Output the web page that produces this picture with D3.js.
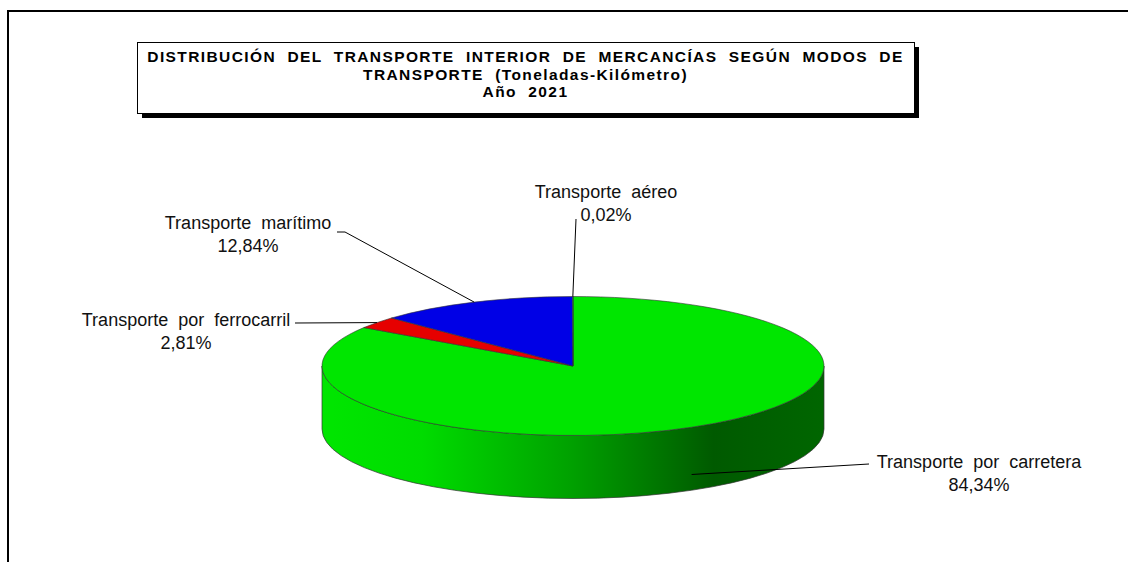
<!DOCTYPE html>
<html>
<head>
<meta charset="utf-8">
<script src="https://cdn.jsdelivr.net/npm/d3@7"></script>
<style>
  html, body { margin: 0; padding: 0; background: #fff; overflow: hidden; }
  svg text { white-space: pre; }
</style>
</head>
<body>
<svg id="chart" width="1128" height="562"></svg>
<script>
// data, in drawing order (clockwise from 12 o'clock)
const categories = ["Transporte  por  carretera", "Transporte  por  ferrocarril", "Transporte  marítimo", "Transporte  aéreo"];
const shares = [84.34, 2.81, 12.84, 0.02];
const pctLabels = ["84,34%", "2,81%", "12,84%", "0,02%"];
const titleLines = [
  "DISTRIBUCIÓN  DEL  TRANSPORTE  INTERIOR  DE  MERCANCÍAS  SEGÚN  MODOS  DE",
  "TRANSPORTE  (Toneladas-Kilómetro)",
  "Año  2021"
];

const sliceColors = ["#00e600", "#e60000", "#0000e6", "#00e6e6"];

// layout
const cx = 573, cy = 366, rx = 251, ry = 69.5, depth = 63;
const labelLayout = [
  { x: 979, y: 462, lx: 869, ly: 464, drop: 0.75 },
  { x: 186, y: 320, lx: 295, ly: 323, drop: 0 },
  { x: 248, y: 223, lx: 337, ly: 232, elbow: 345, drop: 0 },
  { x: 606, y: 192, lx: 576, ly: 219, drop: 0 }
];

const svg = d3.select("#chart");

// outer frame: only left and top edges fall inside the window
svg.append("path")
  .attr("d", "M8,600 V11 H1200")
  .attr("fill", "none")
  .attr("stroke", "#000").attr("stroke-width", 2);

// title box with drop shadow
const tb = { x: 137, y: 42, w: 777, h: 71 };
svg.append("rect")
  .attr("x", tb.x + 5).attr("y", tb.y + 5)
  .attr("width", tb.w).attr("height", tb.h)
  .attr("fill", "#000");
svg.append("rect")
  .attr("x", tb.x + 0.5).attr("y", tb.y + 0.5)
  .attr("width", tb.w).attr("height", tb.h)
  .attr("fill", "#fff")
  .attr("stroke", "#000").attr("stroke-width", 1);

svg.append("g").selectAll("text")
  .data(titleLines)
  .join("text")
  .attr("x", tb.x + tb.w / 2)
  .attr("y", (d, i) => 62 + i * 17.5)
  .attr("text-anchor", "middle")
  .style("font-family", "'Liberation Sans', Arial, sans-serif")
  .style("font-weight", "bold")
  .style("font-size", "15.5px")
  .style("letter-spacing", "1.4px")
  .text(d => d);

// pie geometry
const pie = d3.pie().sort(null).value(d => d);
const arcs = pie(shares);

const pt = (a, dy = 0) => [cx + rx * Math.sin(a), cy - ry * Math.cos(a) + dy];

const defs = svg.append("defs");
const grad = defs.append("linearGradient")
  .attr("id", "sideGreen")
  .attr("gradientUnits", "userSpaceOnUse")
  .attr("x1", cx - rx).attr("x2", cx + rx)
  .attr("y1", 0).attr("y2", 0);
[[0, "#00e600"], [0.2, "#00dc00"], [0.5, "#00a000"], [0.78, "#005a00"], [1, "#006600"]]
  .forEach(([o, c]) => grad.append("stop").attr("offset", o).attr("stop-color", c));

function shade(c) {
  return d3.color(c).darker(1.2).formatHex();
}

// front side walls
const sideG = svg.append("g");
arcs.forEach((d, i) => {
  const s = Math.max(d.startAngle, Math.PI / 2);
  const e = Math.min(d.endAngle, 3 * Math.PI / 2);
  if (s >= e) return;
  const [x0, y0] = pt(s), [x1, y1] = pt(e);
  const [x2, y2] = pt(e, depth), [x3, y3] = pt(s, depth);
  const large = e - s > Math.PI ? 1 : 0;
  const p = `M${x0},${y0} A${rx},${ry} 0 ${large} 1 ${x1},${y1} L${x2},${y2} A${rx},${ry} 0 ${large} 0 ${x3},${y3} Z`;
  sideG.append("path")
    .attr("d", p)
    .attr("fill", i === 0 ? "url(#sideGreen)" : shade(sliceColors[i]))
    .attr("stroke", "#333").attr("stroke-width", 0.7);
});

// top face
svg.append("g").selectAll("path")
  .data(arcs)
  .join("path")
  .attr("d", d => {
    const [x0, y0] = pt(d.startAngle), [x1, y1] = pt(d.endAngle);
    const large = d.endAngle - d.startAngle > Math.PI ? 1 : 0;
    return `M${cx},${cy} L${x0},${y0} A${rx},${ry} 0 ${large} 1 ${x1},${y1} Z`;
  })
  .attr("fill", (d, i) => sliceColors[i])
  .attr("stroke", "#333").attr("stroke-width", 0.6);

// leader lines
const leaderG = svg.append("g");
arcs.forEach((d, i) => {
  const L = labelLayout[i];
  const mid = (d.startAngle + d.endAngle) / 2;
  const end = pt(mid, depth * L.drop);
  const pts = [[L.lx, L.ly]];
  if (L.elbow) pts.push([L.elbow, L.ly]);
  pts.push(end);
  leaderG.append("path")
    .attr("d", d3.line()(pts))
    .attr("fill", "none")
    .attr("stroke", "#000").attr("stroke-width", 1);
});

// labels
const labelG = svg.append("g")
  .style("font-family", "'Liberation Sans', Arial, sans-serif")
  .style("font-size", "18px")
  .attr("fill", "#111");
arcs.forEach((d, i) => {
  const L = labelLayout[i];
  labelG.append("text")
    .attr("x", L.x).attr("y", L.y).attr("dy", "0.35em")
    .attr("text-anchor", "middle")
    .text(categories[i]);
  labelG.append("text")
    .attr("x", L.x).attr("y", L.y + 23).attr("dy", "0.35em")
    .attr("text-anchor", "middle")
    .text(pctLabels[i]);
});
</script>
</body>
</html>
